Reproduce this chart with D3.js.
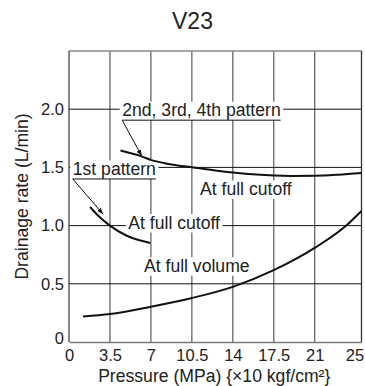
<!DOCTYPE html>
<html>
<head>
<meta charset="utf-8">
<script src="https://cdn.jsdelivr.net/npm/d3@7"></script>
<style>
  html, body { margin: 0; padding: 0; background: #fff; }
  svg { display: block; }
  text { font-family: "Liberation Sans", Arial, Helvetica, sans-serif; fill: #222; }
</style>
</head>
<body>
<svg id="chart" width="365" height="386"></svg>
<script>
// ---- data ----
const title = "V23";
const xTicks = [0, 3.5, 7, 10.5, 14, 17.5, 21, 25];
const xTickLabels = ["0", "3.5", "7", "10.5", "14", "17.5", "21", "25"];
const yTicks = [0, 0.5, 1.0, 1.5, 2.0];
const yTickLabels = ["0", "0.5", "1.0", "1.5", "2.0"];
const xTitle = "Pressure (MPa) {\u00d710 kgf/cm\u00b2}";
const yTitle = "Drainage rate (L/min)";

// 1st pattern, at full cutoff
const firstPatternX = [1.8, 2.5, 3.5, 4.9, 6.1, 6.95];
const firstPatternY = [1.16, 1.085, 1.0, 0.915, 0.872, 0.851];
// 2nd, 3rd, 4th pattern, at full cutoff
const laterPatternX = [4.4, 6.2, 7, 8.5, 10.5, 12.5, 14, 16, 17.5, 19, 21, 23, 25];
const laterPatternY = [1.645, 1.595, 1.565, 1.53, 1.502, 1.474, 1.456, 1.438, 1.43, 1.427, 1.428, 1.437, 1.452];
// at full volume
const fullVolumeX = [1.2, 3.5, 7, 10.5, 14, 17.5, 21, 23.7, 25];
const fullVolumeY = [0.22, 0.24, 0.303, 0.378, 0.474, 0.617, 0.808, 1.0, 1.125];

const labelTexts = ["2nd, 3rd, 4th pattern", "1st pattern", "At full cutoff", "At full cutoff", "At full volume"];

// ---- layout ----
const svg = d3.select("#chart");
const x = d3.scaleLinear().domain([0, 25]).range([69, 361.5]);
const y = d3.scaleLinear().domain([0, 2.5]).range([342, 51]);
const xMin = x.range()[0], xMax = x.range()[1], yTop = y.range()[1], yBot = y.range()[0];
const labelFont = "17.6px", tickFont = "16.5px";

const gridG = svg.append("g");
const bgG = svg.append("g");
const axisG = svg.append("g");
const curveG = svg.append("g");
const annoG = svg.append("g");
const textG = svg.append("g");

// grid: vertical
gridG.append("g").selectAll("line").data(xTicks.filter(v => v > 0 && v < 25)).join("line")
  .attr("x1", d => x(d)).attr("x2", d => x(d))
  .attr("y1", yTop).attr("y2", yBot)
  .attr("stroke", "#666").attr("stroke-width", 1.3);
// grid: horizontal
gridG.append("g").selectAll("line").data(yTicks.filter(v => v > 0)).join("line")
  .attr("x1", xMin).attr("x2", xMax)
  .attr("y1", d => y(d)).attr("y2", d => y(d))
  .attr("stroke", "#111").attr("stroke-width", 1);

// frame
axisG.append("line").attr("x1", xMin).attr("x2", xMax).attr("y1", yTop).attr("y2", yTop)
  .attr("stroke", "#888").attr("stroke-width", 1.5);
axisG.append("line").attr("x1", xMax).attr("x2", xMax).attr("y1", yTop).attr("y2", yBot)
  .attr("stroke", "#333").attr("stroke-width", 1.3);
axisG.append("line").attr("x1", xMin).attr("x2", xMin).attr("y1", yTop).attr("y2", yBot)
  .attr("stroke", "#444").attr("stroke-width", 1.3);

// axes
const fmtX = d => xTickLabels[xTicks.indexOf(d)];
const fmtY = d => yTickLabels[yTicks.indexOf(d)];
const gx = axisG.append("g").attr("transform", `translate(0,${yBot})`)
  .call(d3.axisBottom(x).tickValues(xTicks).tickFormat(fmtX).tickSize(0).tickPadding(7));
gx.attr("font-family", null);
gx.select(".domain").attr("stroke", "#777").attr("stroke-width", 1.6);
gx.selectAll("text").style("font-size", tickFont).attr("fill", "#222");
gx.selectAll(".tick").filter(d => d === 25).select("text").attr("dx", "-7");
const gy = axisG.append("g").attr("transform", `translate(${xMin},0)`)
  .call(d3.axisLeft(y).tickValues(yTicks).tickFormat(fmtY).tickSize(0).tickPadding(5));
gy.attr("font-family", null);
gy.select(".domain").remove();
gy.selectAll("text").style("font-size", tickFont).attr("fill", "#222");
gy.selectAll(".tick").filter(d => d === 0).select("text").attr("dy", "0.12em");

// annotations (label anchors in data units)
const annos = [
  { t: labelTexts[0], ax: 4.55, ay: 1.94, under: true, arrowTo: [6.21, 1.598] },
  { t: labelTexts[1], ax: 0.32, ay: 1.435, under: true, arrowTo: [2.9, 1.10] },
  { t: labelTexts[2], ax: 11.2, ay: 1.263 },
  { t: labelTexts[3], ax: 5.07, ay: 0.975 },
  { t: labelTexts[4], ax: 6.41, ay: 0.604 }
];

const defs = svg.append("defs");
defs.append("marker").attr("id", "arr").attr("viewBox", "0 0 10 10")
  .attr("refX", 10).attr("refY", 5).attr("markerWidth", 6).attr("markerHeight", 6)
  .attr("markerUnits", "userSpaceOnUse").attr("orient", "auto")
  .append("path").attr("d", "M0,1 L10,5 L0,9 Z").attr("fill", "#111");

annos.forEach(a => {
  const tx = textG.append("text").attr("x", x(a.ax)).attr("y", y(a.ay))
    .style("font-size", labelFont).text(a.t);
  const bb = tx.node().getBBox();
  bgG.append("rect").attr("fill", "#fff")
    .attr("x", bb.x - 2.5).attr("y", y(a.ay) - 14.5)
    .attr("width", bb.width + 5).attr("height", 18.5);
  if (a.under) {
    const uy = y(a.ay) + 4;
    annoG.append("line").attr("x1", bb.x).attr("x2", bb.x + bb.width)
      .attr("y1", uy).attr("y2", uy).attr("stroke", "#111").attr("stroke-width", 1);
    annoG.append("line").attr("x1", bb.x).attr("y1", uy)
      .attr("x2", x(a.arrowTo[0])).attr("y2", y(a.arrowTo[1]))
      .attr("stroke", "#111").attr("stroke-width", 1).attr("marker-end", "url(#arr)");
  }
});

// curves
const line = d3.line().x(d => x(d[0])).y(d => y(d[1])).curve(d3.curveMonotoneX);
const curves = [
  d3.zip(firstPatternX, firstPatternY),
  d3.zip(laterPatternX, laterPatternY),
  d3.zip(fullVolumeX, fullVolumeY)
];
curveG.selectAll("path").data(curves).join("path")
  .attr("d", line).attr("fill", "none").attr("stroke", "#111").attr("stroke-width", 2);

// titles
textG.append("text").attr("x", 192.5).attr("y", 29).attr("text-anchor", "middle")
  .style("font-size", "23px").text(title);
textG.append("text").attr("x", (xMin + xMax) / 2 - 1).attr("y", 382).attr("text-anchor", "middle")
  .style("font-size", labelFont).text(xTitle);
textG.append("text").attr("transform", `translate(28,${(yTop + yBot) / 2}) rotate(-90)`)
  .attr("text-anchor", "middle").style("font-size", labelFont).text(yTitle);
</script>
</body>
</html>
